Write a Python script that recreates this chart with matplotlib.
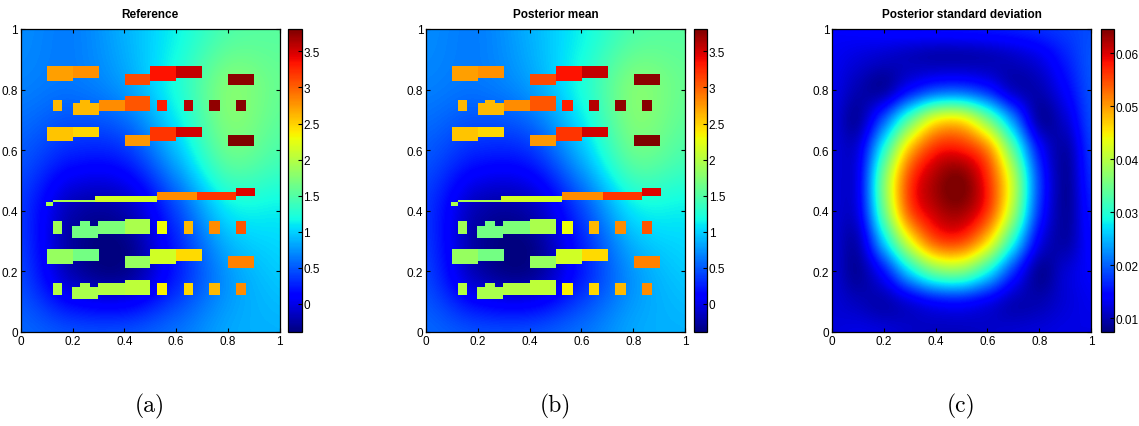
import numpy as np
import matplotlib.pyplot as plt

plt.rcParams['font.family'] = ['Liberation Sans', 'DejaVu Sans']

titles = ['Reference', 'Posterior mean', 'Posterior standard deviation']
captions = ['(a)', '(b)', '(c)']
axis_ticks = [0, 0.2, 0.4, 0.6, 0.8, 1]
axis_labels = ['0', '0.2', '0.4', '0.6', '0.8', '1']
field_ticks = [0, 0.5, 1, 1.5, 2, 2.5, 3, 3.5]
field_labels = ['0', '0.5', '1', '1.5', '2', '2.5', '3', '3.5']
std_ticks = [0.01, 0.02, 0.03, 0.04, 0.05, 0.06]
std_labels = ['0.01', '0.02', '0.03', '0.04', '0.05', '0.06']
field_range = (-0.39, 3.81)
std_range = (0.0074, 0.0646)

# smooth background of the log-field, sampled at x,y = 0, 0.2, ..., 1 (rows: y from 0 up)
background = [
    [0.555, 0.45, 0.45, 0.60, 0.82, 0.87],
    [0.40, -0.20, -0.32, 0.24, 0.765, 0.975],
    [0.345, -0.20, -0.20, 0.42, 1.08, 1.13],
    [0.50, 0.29, 0.345, 0.92, 1.60, 1.47],
    [0.66, 0.61, 0.765, 1.21, 1.73, 1.60],
    [0.71, 0.66, 0.87, 1.15, 1.47, 1.53],
]

# inclusions: (x0, x1, y0, y1, value)
row_a = [(0.10, 0.20, 0.830, 0.877, 2.72), (0.20, 0.30, 0.838, 0.877, 2.78),
         (0.40, 0.50, 0.816, 0.852, 3.10), (0.50, 0.60, 0.830, 0.877, 3.35),
         (0.60, 0.70, 0.838, 0.877, 3.56), (0.80, 0.90, 0.816, 0.852, 3.76)]
row_b = [(0.125, 0.158, 0.729, 0.766, 2.60), (0.20, 0.30, 0.714, 0.755, 2.60),
         (0.227, 0.264, 0.755, 0.766, 2.60), (0.30, 0.40, 0.729, 0.766, 2.80),
         (0.40, 0.50, 0.729, 0.777, 3.05), (0.526, 0.564, 0.729, 0.766, 3.30),
         (0.627, 0.665, 0.729, 0.766, 3.60), (0.728, 0.767, 0.729, 0.766, 3.73),
         (0.829, 0.867, 0.729, 0.766, 3.77)]
row_c = [(0.10, 0.20, 0.629, 0.678, 2.55), (0.20, 0.30, 0.643, 0.678, 2.47),
         (0.40, 0.50, 0.615, 0.651, 2.75), (0.50, 0.60, 0.629, 0.678, 3.20),
         (0.60, 0.70, 0.643, 0.678, 3.50), (0.80, 0.90, 0.615, 0.651, 3.80)]
row_d = [(0.098, 0.124, 0.414, 0.427, 1.95), (0.124, 0.287, 0.427, 0.436, 1.95),
         (0.287, 0.526, 0.427, 0.448, 2.15), (0.526, 0.68, 0.436, 0.463, 2.80),
         (0.68, 0.829, 0.436, 0.463, 3.20), (0.829, 0.906, 0.450, 0.475, 3.45)]
row_e = [(0.124, 0.158, 0.323, 0.364, 1.90), (0.197, 0.298, 0.310, 0.349, 1.67),
         (0.227, 0.265, 0.349, 0.364, 1.67), (0.298, 0.40, 0.323, 0.364, 1.72),
         (0.40, 0.50, 0.323, 0.373, 1.95), (0.526, 0.564, 0.323, 0.364, 2.30),
         (0.627, 0.665, 0.323, 0.364, 2.60), (0.728, 0.767, 0.323, 0.364, 2.80),
         (0.829, 0.867, 0.323, 0.364, 3.05)]
row_f = [(0.10, 0.20, 0.224, 0.274, 1.85), (0.20, 0.30, 0.234, 0.274, 1.67),
         (0.40, 0.50, 0.211, 0.249, 1.85), (0.50, 0.60, 0.224, 0.274, 2.15),
         (0.60, 0.70, 0.234, 0.274, 2.45), (0.80, 0.90, 0.211, 0.249, 2.85)]
row_g = [(0.124, 0.158, 0.122, 0.162, 2.00), (0.197, 0.298, 0.109, 0.148, 1.95),
         (0.227, 0.265, 0.148, 0.162, 1.95), (0.298, 0.40, 0.122, 0.162, 2.00),
         (0.40, 0.50, 0.122, 0.172, 2.05), (0.526, 0.564, 0.122, 0.162, 2.35),
         (0.627, 0.665, 0.122, 0.162, 2.47), (0.728, 0.767, 0.122, 0.162, 2.60),
         (0.829, 0.867, 0.122, 0.162, 2.80)]
inclusions = row_a + row_b + row_c + row_d + row_e + row_f + row_g

# posterior std, sampled at x,y = 0, 0.1, ..., 1 (rows: y from 0 up)
std_grid = [
    [0.0120, 0.0125, 0.0120, 0.0110, 0.0105, 0.0105, 0.0110, 0.0115, 0.0120, 0.0125, 0.0125],
    [0.0118, 0.0105, 0.0100, 0.0125, 0.0150, 0.0155, 0.0135, 0.0105, 0.0100, 0.0118, 0.0130],
    [0.0118, 0.0090, 0.0155, 0.0269, 0.0352, 0.0361, 0.0289, 0.0175, 0.0090, 0.0115, 0.0138],
    [0.0118, 0.0105, 0.0262, 0.0430, 0.0540, 0.0550, 0.0460, 0.0295, 0.0135, 0.0095, 0.0145],
    [0.0118, 0.0130, 0.0342, 0.0540, 0.0612, 0.0628, 0.0560, 0.0387, 0.0175, 0.0090, 0.0155],
    [0.0118, 0.0135, 0.0358, 0.0552, 0.0625, 0.0646, 0.0570, 0.0404, 0.0185, 0.0090, 0.0166],
    [0.0120, 0.0125, 0.0298, 0.0480, 0.0572, 0.0580, 0.0515, 0.0339, 0.0155, 0.0095, 0.0175],
    [0.0122, 0.0095, 0.0197, 0.0335, 0.0440, 0.0450, 0.0360, 0.0226, 0.0098, 0.0115, 0.0185],
    [0.0128, 0.0100, 0.0095, 0.0150, 0.0190, 0.0195, 0.0165, 0.0110, 0.0100, 0.0140, 0.0190],
    [0.0132, 0.0120, 0.0110, 0.0105, 0.0100, 0.0100, 0.0102, 0.0108, 0.0125, 0.0160, 0.0192],
    [0.0137, 0.0140, 0.0145, 0.0148, 0.0150, 0.0152, 0.0155, 0.0160, 0.0168, 0.0178, 0.0188],
]

# build inclusion layer on a fine grid
n = 400
cc = (np.arange(n) + 0.5) / n
X, Y = np.meshgrid(cc, cc)
layer = np.full((n, n), np.nan)
for x0, x1, y0, y1, val in inclusions:
    layer[(X >= x0) & (X < x1) & (Y >= y0) & (Y < y1)] = val
layer = np.ma.masked_invalid(layer)

W, H = 1139, 427
fig = plt.figure(figsize=(W / 100, H / 100), dpi=100)
ax_left = [20.7, 426.0, 832.0]
cb_left = [288.3, 694.0, 1100.5]
ax_w, ax_top, ax_bot = 259.0, 30.0, 333.0

for i in range(3):
    ax = fig.add_axes([ax_left[i] / W, 1 - ax_bot / H, ax_w / W, (ax_bot - ax_top) / H])
    cax = fig.add_axes([cb_left[i] / W, 1 - ax_bot / H, 13.4 / W, (ax_bot - ax_top) / H])
    if i < 2:
        im = ax.imshow(background, origin='lower', extent=[-0.1, 1.1, -0.1, 1.1],
                       cmap='jet', vmin=field_range[0], vmax=field_range[1],
                       interpolation='catrom', aspect='auto')
        ax.imshow(layer, origin='lower', extent=[0, 1, 0, 1], cmap='jet',
                  vmin=field_range[0], vmax=field_range[1],
                  interpolation='nearest', aspect='auto')
        ticks, labels = field_ticks, field_labels
    else:
        im = ax.imshow(std_grid, origin='lower', extent=[-0.05, 1.05, -0.05, 1.05],
                       cmap='jet', vmin=std_range[0], vmax=std_range[1],
                       interpolation='catrom', aspect='auto')
        ticks, labels = std_ticks, std_labels
    ax.set_xlim(0, 1)
    ax.set_ylim(0, 1)
    ax.set_xticks(axis_ticks)
    ax.set_xticklabels(axis_labels)
    ax.set_yticks(axis_ticks)
    ax.set_yticklabels(axis_labels)
    ax.tick_params(direction='in', length=3, width=0.8, labelsize=8.5,
                   top=True, right=True, pad=2)
    for s in ax.spines.values():
        s.set_linewidth(0.9)
    ax.set_title(titles[i], fontsize=8.5, fontweight='bold', pad=9)

    cb = fig.colorbar(im, cax=cax, ticks=ticks)
    cb.ax.set_yticklabels(labels)
    cb.ax.tick_params(direction='in', length=3, width=0.8, labelsize=8.5, pad=1)
    cb.outline.set_linewidth(0.9)

    fig.text((ax_left[i] + ax_w / 2) / W, 1 - 406 / H, captions[i],
             family=['cmr10', 'DejaVu Serif'], fontsize=17, ha='center', va='center')

fig.savefig('out.png', dpi=100)
